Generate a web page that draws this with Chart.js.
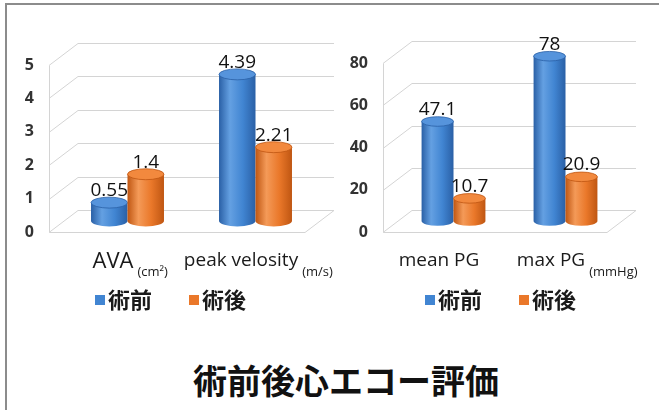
<!DOCTYPE html>
<html>
<head>
<meta charset="utf-8">
<script src="https://cdn.jsdelivr.net/npm/chart.js@4.4.1/dist/chart.umd.min.js"></script>
<style>
  html, body { margin: 0; padding: 0; background: #fff; }
  #page { position: relative; width: 659px; height: 410px; overflow: hidden; background: #fff; }
  #frame { position: absolute; left: 5px; top: 3px; width: 700px; height: 450px;
           border-left: 2px solid #8c8c8c; border-top: 2px solid #8c8c8c; }
  #leftWrap { position: absolute; left: 0; top: 0; width: 345px; height: 320px; }
  #rightWrap { position: absolute; left: 330px; top: 0; width: 329px; height: 320px; }
  #title { position: absolute; left: 0; top: 360px; width: 692px; text-align: center;
           font: bold 34px "Noto Sans CJK JP", sans-serif; line-height: 40px; color: #111; }
</style>
</head>
<body>
<div id="page">
  <div id="frame"></div>
  <div id="leftWrap"><canvas id="leftChart" width="345" height="320"></canvas></div>
  <div id="rightWrap"><canvas id="rightChart" width="329" height="320"></canvas></div>
  <div id="title">術前後心エコー評価</div>
</div>
<script>
// data
const seriesNames = ['術前', '術後'];

const leftCategories = ['AVA', 'peak velosity'];
const leftUnits = ['(cm²)', '(m/s)'];
const leftPre = [0.55, 4.39];
const leftPost = [1.4, 2.21];
const leftTicks = [0, 1, 2, 3, 4, 5];

const rightCategories = ['mean PG', 'max PG'];
const rightUnits = ['', '(mmHg)'];
const rightPre = [47.1, 78];
const rightPost = [10.7, 20.9];
const rightTicks = [0, 20, 40, 60, 80];

// look
const colors = [
  { main: '#4185d2', dark: '#2a60a6', light: '#64a0e2', top: '#5694dc' },
  { main: '#ea782a', dark: '#bf5612', light: '#f49a58', top: '#f2893e' }
];
const DX = 29, DY = -22;   // depth of the 3d box
const gridColor = '#d4d4d4';

// "AVA" is set a bit larger than the other category names
function catFont(label) {
  return { family: '"Open Sans"', size: label === 'AVA' ? 22 : 19 };
}

function drawCylinder(ctx, cx, topY, baseY, w, c) {
  const rx = w / 2, ry = w * 0.15;
  const g = ctx.createLinearGradient(cx - rx, 0, cx + rx, 0);
  g.addColorStop(0, c.dark);
  g.addColorStop(0.3, c.light);
  g.addColorStop(0.65, c.main);
  g.addColorStop(1, c.dark);
  ctx.beginPath();
  ctx.moveTo(cx - rx, topY);
  ctx.lineTo(cx - rx, baseY);
  ctx.ellipse(cx, baseY, rx, ry, 0, Math.PI, 0, true);
  ctx.lineTo(cx + rx, topY);
  ctx.closePath();
  ctx.fillStyle = g;
  ctx.fill();
  ctx.beginPath();
  ctx.ellipse(cx, topY, rx, ry, 0, 0, Math.PI * 2);
  ctx.fillStyle = c.top;
  ctx.fill();
  ctx.strokeStyle = c.dark;
  ctx.lineWidth = 0.8;
  ctx.stroke();
}

const box3d = {
  id: 'box3d',
  beforeDatasetsDraw(chart) {
    const ctx = chart.ctx;
    const { left, right, bottom } = chart.chartArea;
    const y = chart.scales.y;
    ctx.save();
    ctx.strokeStyle = gridColor;
    ctx.lineWidth = 1;
    // walls
    y.ticks.forEach(t => {
      const py = Math.round(y.getPixelForValue(t.value)) + 0.5;
      ctx.beginPath();
      ctx.moveTo(left, py);
      ctx.lineTo(left + DX, py + DY);
      ctx.lineTo(right + DX, py + DY);
      ctx.stroke();
    });
    // floor and front axis
    const top = Math.round(y.getPixelForValue(y.max)) + 0.5;
    ctx.beginPath();
    ctx.moveTo(left + 0.5, top);
    ctx.lineTo(left + 0.5, bottom + 0.5);
    ctx.lineTo(right, bottom + 0.5);
    ctx.lineTo(right + DX, bottom + 0.5 + DY);
    ctx.stroke();

    // cylinders
    const n = chart.data.labels.length;
    for (let i = 0; i < n; i++) {
      chart.data.datasets.forEach((ds, di) => {
        const el = chart.getDatasetMeta(di).data[i];
        drawCylinder(ctx, el.x + DX / 2, el.y + DY / 2, el.base + DY / 2, el.width, colors[di]);
      });
    }
    // value labels
    ctx.font = '19px "Open Sans"';
    ctx.fillStyle = '#111';
    ctx.textAlign = 'center';
    ctx.textBaseline = 'middle';
    chart.data.datasets.forEach((ds, di) => {
      chart.getDatasetMeta(di).data.forEach((el, i) => {
        ctx.fillText(String(ds.data[i]), el.x + DX / 2, el.y + DY / 2 - 12);
      });
    });
    ctx.restore();
    return false;
  },
  afterDraw(chart) {
    const ctx = chart.ctx;
    const x = chart.scales.x;
    const units = chart.options.plugins.box3d.units;
    ctx.save();
    // unit suffixes after the category labels
    ctx.fillStyle = '#1a1a1a';
    ctx.textBaseline = 'middle';
    ctx.textAlign = 'left';
    chart.data.labels.forEach((lab, i) => {
      if (!units[i]) return;
      const f = catFont(lab);
      ctx.font = f.size + 'px ' + f.family;
      const w = ctx.measureText(lab).width;
      ctx.font = '13px "Open Sans"';
      ctx.fillText(units[i], x.getPixelForTick(i) + w / 2 + 4, 272);
    });
    // legend
    ctx.font = 'bold 22px "Noto Sans CJK JP"';
    const boxX = [95, 189];
    chart.data.datasets.forEach((ds, di) => {
      ctx.fillStyle = colors[di].main;
      ctx.fillRect(boxX[di], 295, 10, 10);
      ctx.fillStyle = '#1a1a1a';
      ctx.fillText(ds.label, boxX[di] + 13, 300);
    });
    ctx.restore();
  }
};

function makeChart(id, cats, units, pre, post, ticks, axisWidth, pad) {
  return new Chart(document.getElementById(id), {
    type: 'bar',
    data: {
      labels: cats,
      datasets: [
        { label: seriesNames[0], data: pre, backgroundColor: colors[0].main },
        { label: seriesNames[1], data: post, backgroundColor: colors[1].main }
      ]
    },
    options: {
      responsive: false,
      animation: false,
      layout: { padding: pad },
      categoryPercentage: 0.57,
      barPercentage: 1.0,
      plugins: {
        legend: { display: false },
        tooltip: { enabled: false },
        box3d: { units: units }
      },
      scales: {
        x: {
          grid: { display: false, drawTicks: false },
          border: { display: false },
          ticks: {
            color: '#1a1a1a',
            padding: 17,
            maxRotation: 0,
            autoSkip: false,
            font: ctx => catFont(cats[ctx.index])
          },
          afterFit: s => { s.height = 88; }
        },
        y: {
          min: ticks[0],
          max: ticks[ticks.length - 1],
          grid: { display: false, drawTicks: false },
          border: { display: false },
          ticks: {
            color: '#333',
            padding: 15,
            font: { family: '"Open Sans"', size: 16, weight: 'bold' }
          },
          afterBuildTicks: s => { s.ticks = ticks.map(v => ({ value: v })); },
          afterFit: s => { s.width = axisWidth; }
        }
      }
    },
    plugins: [box3d]
  });
}

makeChart('leftChart', leftCategories, leftUnits, leftPre, leftPost, leftTicks, 49,
  { left: 0, right: 40, top: 65, bottom: 0 });
makeChart('rightChart', rightCategories, rightUnits, rightPre, rightPost, rightTicks, 53,
  { left: 0, right: 52, top: 63, bottom: 0 });
</script>
</body>
</html>
